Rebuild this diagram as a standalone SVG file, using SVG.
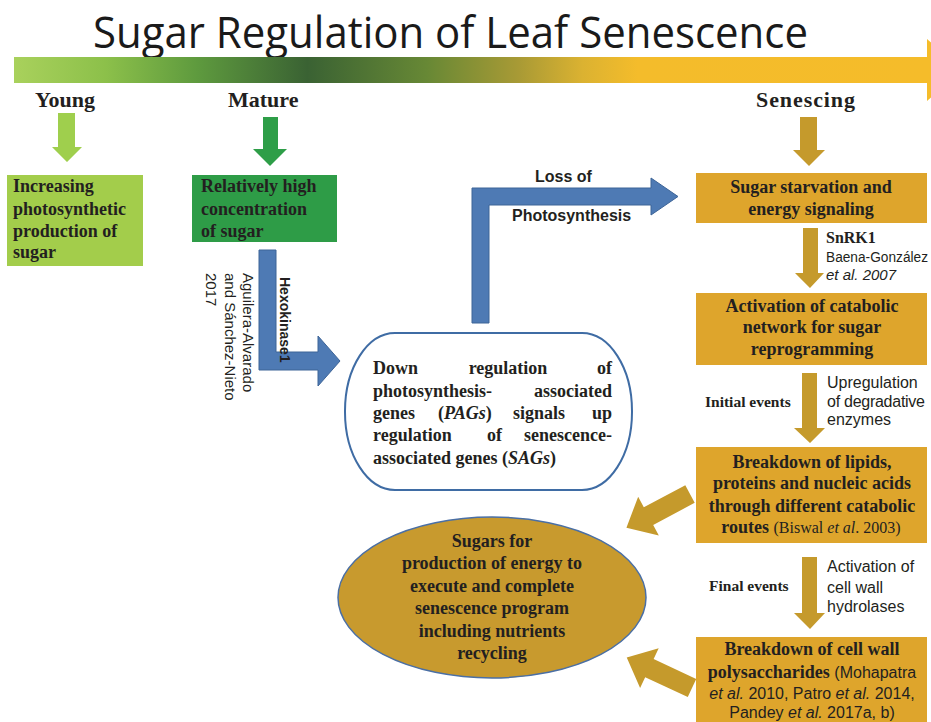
<svg xmlns="http://www.w3.org/2000/svg" width="931" height="722" viewBox="0 0 931 722">
<defs>
<linearGradient id="bar" x1="14" y1="0" x2="931" y2="0" gradientUnits="userSpaceOnUse">
<stop offset="0" stop-color="#a9d15c"/>
<stop offset="0.1" stop-color="#8cc04a"/>
<stop offset="0.2" stop-color="#5e9a3e"/>
<stop offset="0.32" stop-color="#3a6233"/>
<stop offset="0.45" stop-color="#678835"/>
<stop offset="0.55" stop-color="#a89a35"/>
<stop offset="0.62" stop-color="#dbb231"/>
<stop offset="0.68" stop-color="#f4bc2b"/>
<stop offset="1" stop-color="#f5bc2a"/>
</linearGradient>
</defs>
<style>
.lbl{font-family:"Liberation Serif","Times New Roman",serif;font-weight:bold;fill:#231f20}
.bx{font-family:"Liberation Serif","Times New Roman",serif;font-weight:bold;font-size:18px;fill:#231f20}
.sans{font-family:"Liberation Sans",Arial,sans-serif;fill:#231f20}
.gold{fill:#dea52c}
.garrow{fill:#c59a2c}
.blue{fill:#4e7ab4;stroke:#3d6497;stroke-width:1}
</style>
<rect width="931" height="722" fill="#ffffff"/>

<g id="title">
<text x="93" y="48" font-family="'Open Sans','Noto Sans',sans-serif" font-size="44" fill="#1a1a1a" textLength="715" lengthAdjust="spacingAndGlyphs">Sugar Regulation of Leaf Senescence</text>
</g>

<g id="timeline">
<rect x="14" y="57" width="914" height="26" fill="url(#bar)"/>
<polygon points="927,39 962,70 927,101" fill="#f5bc2a"/>
<text class="lbl" x="35" y="107" font-size="22">Young</text>
<text class="lbl" x="228" y="107" font-size="22">Mature</text>
<text class="lbl" x="756" y="107" font-size="22" textLength="99">Senescing</text>
</g>

<g id="connectors">
<path d="M58,113 H75 V147 H82 L67,162 L52,147 H58 Z" fill="#9fcf4d"/>
<path d="M263,117 H278 V149 H287 L270,166 L253,149 H263 Z" fill="#2e9e48"/>
<path class="garrow" d="M800,117 H817 V150 H825 L809,166 L793,150 H800 Z"/>
<path class="garrow" d="M803,228 H818 V273 H824 L810,288 L795,273 H803 Z"/>
<path class="garrow" d="M802,373 H817 V428 H825 L810,443 L794,428 H802 Z"/>
<path class="garrow" d="M802,557 H817 V613 H825 L810,629 L794,613 H802 Z"/>
<path class="garrow" transform="translate(690,494) rotate(152)" d="M0,-10 L47,-10 L47,-22 L72,0 L47,22 L47,10 L0,10 Z"/>
<path class="garrow" transform="translate(692,688) rotate(205)" d="M0,-10 L47,-10 L47,-22 L72,0 L47,22 L47,10 L0,10 Z"/>
<path class="blue" d="M259,250 H276 V352 H318 V336 L340,361 L318,386 V370 H259 Z"/>
<path class="blue" d="M472,323 V188 H651 V178 L678,196.5 L651,215 V205 H489 V323 Z"/>
<text class="sans" font-weight="bold" font-size="14" transform="translate(280,277) rotate(90)">Hexokinase1</text>
<text class="sans" font-size="15" transform="translate(243,273) rotate(90)">Aguilera-Alvarado</text>
<text class="sans" font-size="15" transform="translate(225,273) rotate(90)">and Sánchez-Nieto</text>
<text class="sans" font-size="15" transform="translate(206,273) rotate(90)">2017</text>
<text class="sans" font-weight="bold" font-size="16" x="535" y="182" fill="#333">Loss of</text>
<text class="sans" font-weight="bold" font-size="16" x="512" y="221" fill="#333">Photosynthesis</text>
<text class="lbl" x="826" y="243" font-size="16">SnRK1</text>
<text class="sans" x="826" y="262" font-size="14" textLength="102" lengthAdjust="spacingAndGlyphs">Baena-González</text>
<text class="sans" x="826" y="280" font-size="15" font-style="italic">et al. 2007</text>
<text class="lbl" x="705" y="407" font-size="15.5">Initial events</text>
<text class="sans" x="827" y="388" font-size="16">Upregulation</text>
<text class="sans" x="827" y="407" font-size="16" textLength="98">of degradative</text>
<text class="sans" x="827" y="425" font-size="16">enzymes</text>
<text class="lbl" x="709" y="591" font-size="15.5">Final events</text>
<text class="sans" x="827" y="572" font-size="16">Activation of</text>
<text class="sans" x="827" y="593" font-size="16">cell wall</text>
<text class="sans" x="827" y="612" font-size="16">hydrolases</text>
</g>

<g id="young">
<rect x="7" y="175" width="136" height="91" fill="#a3cd4b"/>
<text class="bx" x="13" y="192">Increasing</text>
<text class="bx" x="13" y="215">photosynthetic</text>
<text class="bx" x="13" y="237">production of</text>
<text class="bx" x="13" y="258">sugar</text>
</g>

<g id="mature">
<rect x="192" y="175" width="145" height="67" fill="#2e9c47"/>
<text class="bx" x="201" y="192">Relatively high</text>
<text class="bx" x="201" y="215">concentration</text>
<text class="bx" x="201" y="237">of sugar</text>
</g>

<g id="downregulation">
<rect x="345" y="333" width="287" height="157" rx="50" ry="78" fill="#ffffff" stroke="#3f6ca4" stroke-width="2"/>
<text class="bx" y="374"><tspan x="373">Down</tspan><tspan x="508" text-anchor="middle">regulation</tspan><tspan x="612" text-anchor="end">of</tspan></text>
<text class="bx" y="397"><tspan x="373">photosynthesis-</tspan><tspan x="612" text-anchor="end">associated</tspan></text>
<text class="bx" y="419"><tspan x="373">genes</tspan><tspan x="438">(<tspan font-style="italic">PAGs</tspan>)</tspan></text>
<text class="bx" y="419"><tspan x="513">signals</tspan><tspan x="612" text-anchor="end">up</tspan></text>
<text class="bx" y="441"><tspan x="373">regulation</tspan><tspan x="487">of</tspan><tspan x="612" text-anchor="end">senescence-</tspan></text>
<text class="bx" x="373" y="464">associated genes (<tspan font-style="italic">SAGs</tspan>)</text>
</g>

<g id="sugars">
<ellipse cx="492" cy="597.5" rx="154" ry="80.5" fill="#c89a2e" stroke="#4a6fa5" stroke-width="1.5"/>
<text class="bx" text-anchor="middle" x="492" y="547">Sugars  for</text>
<text class="bx" text-anchor="middle" x="492" y="569">production  of energy to</text>
<text class="bx" text-anchor="middle" x="492" y="592">execute and complete</text>
<text class="bx" text-anchor="middle" x="492" y="614">senescence  program</text>
<text class="bx" text-anchor="middle" x="492" y="637">including nutrients</text>
<text class="bx" text-anchor="middle" x="492" y="659">recycling</text>
</g>

<g id="starvation">
<rect class="gold" x="696" y="173" width="231" height="50"/>
<text class="bx" text-anchor="middle" x="811" y="193">Sugar starvation  and</text>
<text class="bx" text-anchor="middle" x="811" y="215">energy signaling</text>
</g>

<g id="catabolic">
<rect class="gold" x="696" y="293" width="231" height="72"/>
<text class="bx" text-anchor="middle" x="812" y="312">Activation of catabolic</text>
<text class="bx" text-anchor="middle" x="812" y="333">network for sugar</text>
<text class="bx" text-anchor="middle" x="812" y="355">reprogramming</text>
</g>

<g id="breakdown">
<rect class="gold" x="696" y="447" width="231" height="96"/>
<text class="bx" text-anchor="middle" x="812" y="468">Breakdown of lipids,</text>
<text class="bx" text-anchor="middle" x="812" y="489">proteins and nucleic acids</text>
<text class="bx" text-anchor="middle" x="812" y="512">through different catabolic</text>
<text class="bx" text-anchor="middle" x="811" y="533">routes  <tspan font-weight="normal" font-size="16">(Biswal <tspan font-style="italic">et al</tspan>. 2003)</tspan></text>
</g>

<g id="cellwall">
<rect class="gold" x="696" y="637" width="231" height="85"/>
<text class="bx" text-anchor="middle" x="812" y="655">Breakdown  of cell wall</text>
<text class="bx" text-anchor="middle" x="812" y="678">polysaccharides <tspan font-family="'Liberation Sans',Arial,sans-serif" font-weight="normal" font-size="16">(Mohapatra</tspan></text>
<text class="sans" text-anchor="middle" x="812" y="699" font-size="16"><tspan font-style="italic">et al.</tspan> 2010, Patro <tspan font-style="italic">et al.</tspan> 2014,</text>
<text class="sans" text-anchor="middle" x="812" y="718" font-size="16">Pandey <tspan font-style="italic">et al.</tspan> 2017a, b)</text>
</g>
</svg>
